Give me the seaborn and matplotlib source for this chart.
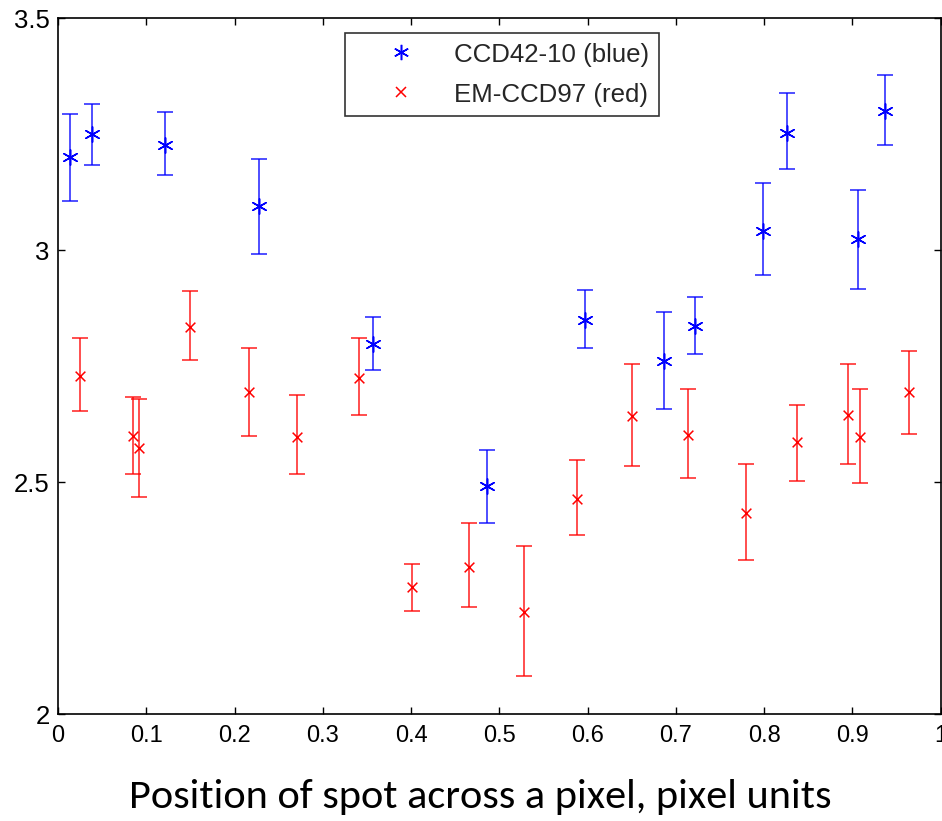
import numpy as np
import pandas as pd
import matplotlib
matplotlib.use("Agg")
import matplotlib.pyplot as plt
from matplotlib import font_manager as fm
from matplotlib.lines import Line2D
import seaborn as sns

# ---- data ----
blue_x = [0.0136, 0.0382, 0.1217, 0.2280, 0.3572, 0.4864, 0.5970, 0.6869, 0.7220, 0.7984, 0.8255, 0.9067, 0.9369]
blue_y = [3.202, 3.250, 3.228, 3.095, 2.797, 2.491, 2.850, 2.761, 2.837, 3.042, 3.253, 3.024, 3.301]
blue_hi = [3.294, 3.316, 3.298, 3.197, 2.856, 2.570, 2.915, 2.868, 2.899, 3.144, 3.338, 3.131, 3.378]
blue_lo = [3.106, 3.184, 3.162, 2.992, 2.741, 2.412, 2.789, 2.657, 2.776, 2.947, 3.176, 2.916, 3.228]

red_x = [0.0249, 0.0846, 0.0917, 0.1495, 0.2167, 0.2704, 0.3410, 0.4014, 0.4656, 0.5279, 0.5876, 0.6503,
         0.7141, 0.7795, 0.8372, 0.8953, 0.9086, 0.9645]
red_y = [2.730, 2.600, 2.573, 2.835, 2.695, 2.598, 2.725, 2.275, 2.318, 2.221, 2.463, 2.643,
         2.603, 2.434, 2.587, 2.644, 2.598, 2.695]
red_hi = [2.811, 2.684, 2.680, 2.912, 2.789, 2.688, 2.811, 2.324, 2.412, 2.363, 2.548, 2.754,
          2.701, 2.539, 2.666, 2.754, 2.701, 2.784]
red_lo = [2.653, 2.517, 2.469, 2.763, 2.600, 2.517, 2.644, 2.223, 2.232, 2.083, 2.386, 2.535,
          2.509, 2.332, 2.503, 2.539, 2.499, 2.605]

series_names = ["CCD42-10 (blue)", "EM-CCD97 (red)"]
x_ticks = [0, 0.1, 0.2, 0.3, 0.4, 0.5, 0.6, 0.7, 0.8, 0.9, 1]
x_tick_labels = ["0", "0.1", "0.2", "0.3", "0.4", "0.5", "0.6", "0.7", "0.8", "0.9", "1"]
y_ticks = [2, 2.5, 3, 3.5]
y_tick_labels = ["2", "2.5", "3", "3.5"]
x_label = "Position of spot across a pixel, pixel units"

# ---- build table ----
df = pd.concat([
    pd.DataFrame({"x": blue_x, "y": blue_y, "lo": blue_lo, "hi": blue_hi, "series": series_names[0]}),
    pd.DataFrame({"x": red_x, "y": red_y, "lo": red_lo, "hi": red_hi, "series": series_names[1]}),
], ignore_index=True)


def pick(cands):
    for c in cands:
        try:
            fm.findfont(fm.FontProperties(family=c), fallback_to_default=False)
            return c
        except Exception:
            pass
    return "DejaVu Sans"


main_font = pick(["Liberation Sans", "Arimo", "Arial", "Helvetica", "Roboto"])
label_font = pick(["Carlito", "Calibri", "Lato", "Open Sans"])

sns.set_style("ticks")
plt.rcParams["font.family"] = [main_font, "DejaVu Sans"]

fig = plt.figure(figsize=(9.42, 8.21), dpi=100)
ax = fig.add_axes([58 / 942, 1 - 714.3 / 821, (940.7 - 58) / 942, (714.3 - 18.3) / 821])

colors = {series_names[0]: (0, 0, 1), series_names[1]: (1, 0, 0)}
markers = {series_names[0]: (6, 2, 0), series_names[1]: "x"}
sizes = {series_names[0]: 11, series_names[1]: 7}

for name, sub in df.groupby("series", sort=False):
    ax.errorbar(sub["x"], sub["y"],
                yerr=[sub["y"] - sub["lo"], sub["hi"] - sub["y"]],
                fmt="none", ecolor=colors[name], elinewidth=1.3, capsize=6, capthick=1.3,
                alpha=0.75, zorder=2)

for name, sub in df.groupby("series", sort=False):
    sns.scatterplot(data=sub, x="x", y="y", ax=ax, color=colors[name], marker=markers[name],
                    s=sizes[name] ** 2, linewidth=1.1, edgecolor=colors[name],
                    zorder=3, legend=False)

handles = [Line2D([], [], linestyle="none", marker=markers[n], color=colors[n],
                  markersize=sizes[n], markeredgewidth=1.1) for n in series_names]
leg = ax.legend(handles, series_names, loc="upper left",
                bbox_to_anchor=(345 / 942, 1 - 32.7 / 821), bbox_transform=fig.transFigure,
                prop={"family": [main_font, "DejaVu Sans"], "size": 18.6},
                frameon=True, fancybox=False, edgecolor="black",
                borderpad=0.38, handlelength=3.6, handletextpad=0.25, labelspacing=0.62,
                borderaxespad=0)
leg.get_frame().set_linewidth(1.2)

ax.set_xlim(0, 1)
ax.set_ylim(2, 3.5)
ax.set_xticks(x_ticks)
ax.set_xticklabels(x_tick_labels, family=[main_font, "DejaVu Sans"])
ax.set_yticks(y_ticks)
ax.set_yticklabels(y_tick_labels, family=[main_font, "DejaVu Sans"])
ax.set_xlabel("")
ax.set_ylabel("")
ax.tick_params(direction="in", top=True, right=True, length=5, width=1.0, colors="black")
ax.tick_params(axis="x", pad=8, labelsize=17)
ax.tick_params(axis="y", pad=6, labelsize=18.5)
for sp in ax.spines.values():
    sp.set_visible(True)
    sp.set_linewidth(1.2)
    sp.set_color("black")

fig.text(480 / 942, 1 - 808 / 821, x_label, family=[label_font, "DejaVu Sans"],
         fontsize=30.5, ha="center", va="baseline", color="black")

fig.savefig("out.png", dpi=100)
